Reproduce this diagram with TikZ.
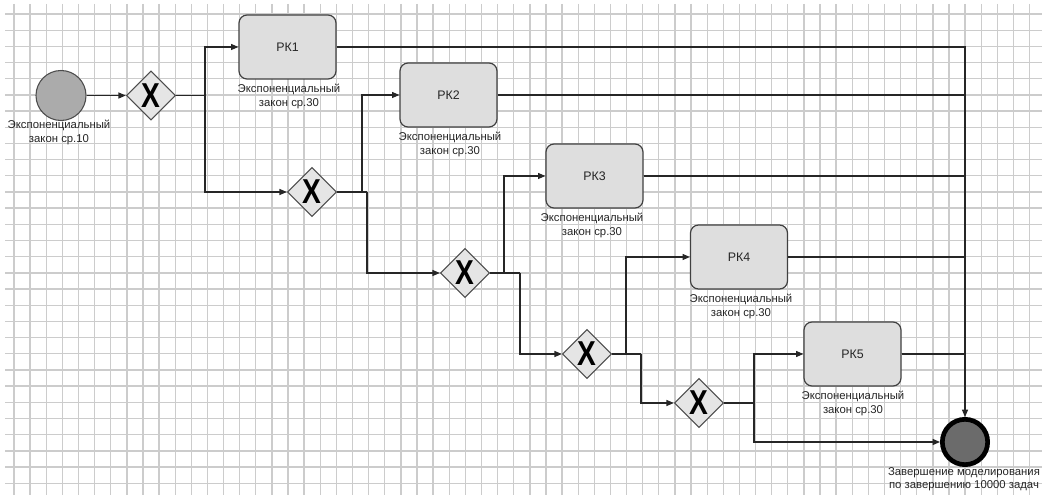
\documentclass[tikz,border=0pt]{standalone}
\usepackage{fontspec}
\setmainfont{Liberation Sans}
\usetikzlibrary{shapes.geometric,arrows.meta}
\begin{document}
\begin{tikzpicture}[x=0.75pt,y=-0.75pt,
  conn/.style={draw=black!85, line width=0.8pt, -{Triangle[length=5.5pt,width=4.5pt]}},
  plain/.style={draw=black!85, line width=0.8pt},
  task/.style={draw=black!75, fill=black!13, rounded corners=6pt, minimum width=72.75pt, minimum height=48pt, line width=0.9pt, font=\fontsize{9.3}{10}\selectfont, text=black!85, inner sep=0pt},
  gw/.style={diamond, draw=black!70, fill=black!10, minimum width=37pt, minimum height=37pt, inner sep=0pt, line width=0.8pt, font=\bfseries\fontsize{24}{24}\selectfont},
  lbl/.style={align=center, font=\fontsize{8.5}{10.3}\selectfont, text=black!85, inner sep=0pt, anchor=north},
  gridline/.style={draw=black!20, line width=1pt}]
\useasboundingbox (0,0) rectangle (1042,495);
\fill[white] (0,0) rectangle (1042,495);
% grid
\foreach \i in {0,...,63} \draw[gridline] ({14+16.12*\i},4) -- ({14+16.12*\i},495);
\foreach \j in {0,...,29} \draw[gridline] (5,{14+16.18*\j}) -- (1042,{14+16.18*\j});

% start event
\node[circle, draw=black!70, fill=black!33, minimum size=37.5pt, inner sep=0pt, line width=0.8pt] (s) at (61,95.5) {};
\node[lbl] (sl) at (59,120) {Экспоненциальный\\закон ср.10};

% gateways
\node[gw] (g1) at (151,95.5) {\scalebox{0.88}[1.08]{X}};
\node[gw] (g2) at (312,192) {\scalebox{0.88}[1.08]{X}};
\node[gw] (g3) at (465,273) {\scalebox{0.88}[1.08]{X}};
\node[gw] (g4) at (587,354) {\scalebox{0.88}[1.08]{X}};
\node[gw] (g5) at (699,403) {\scalebox{0.88}[1.08]{X}};

% tasks
\node[task] (pk1) at (287.5,47) {РК1};
\node[task] (pk2) at (448.5,95) {РК2};
\node[task] (pk3) at (594.5,176) {РК3};
\node[task] (pk4) at (739,257) {РК4};
\node[task] (pk5) at (852.5,354) {РК5};
\node[lbl] (l1) at (289,84) {Экспоненциальный\\закон ср.30};
\node[lbl] (l2) at (450,132) {Экспоненциальный\\закон ср.30};
\node[lbl] (l3) at (592,213) {Экспоненциальный\\закон ср.30};
\node[lbl] (l4) at (741,294) {Экспоненциальный\\закон ср.30};
\node[lbl] (l5) at (853,391) {Экспоненциальный\\закон ср.30};

% end event
\node[circle, draw=black, fill=black!58, minimum size=34pt, inner sep=0pt, line width=3.5pt] (e) at (965,442) {};
\node[lbl] (el) at (964,467) {Завершение моделирования\\по завершению 10000 задач};

% branch points
\coordinate (c1) at (205,95.5);
\coordinate (c2u) at (362,192);
\coordinate (c2d) at (367,192);
\coordinate (c3u) at (504,273);
\coordinate (c3d) at (520,273);
\coordinate (c4u) at (626,354);
\coordinate (c4d) at (641,354);
\coordinate (c5) at (754,403);

% connectors
\draw[conn] (s.east) -- (g1.west);
\draw[plain] (g1.east) -- (c1);
\draw[conn] (c1) |- (pk1.west);
\draw[conn] (c1) |- (g2.west);
\draw[plain] (g2.east) -- (c2d);
\draw[conn] (c2u) |- (pk2.west);
\draw[conn] (c2d) |- (g3.west);
\draw[plain] (g3.east) -- (c3d);
\draw[conn] (c3u) |- (pk3.west);
\draw[conn] (c3d) |- (g4.west);
\draw[plain] (g4.east) -- (c4d);
\draw[conn] (c4u) |- (pk4.west);
\draw[conn] (c4d) |- (g5.west);
\draw[plain] (g5.east) -- (c5);
\draw[conn] (c5) |- (pk5.west);
\draw[conn] (c5) |- (e.west);

\draw[conn] (pk1.east) -| (e.north);
\foreach \p in {pk2,pk3,pk4,pk5} \draw[plain] (\p.east) -- (\p.east -| e.north);
\end{tikzpicture}
\end{document}
